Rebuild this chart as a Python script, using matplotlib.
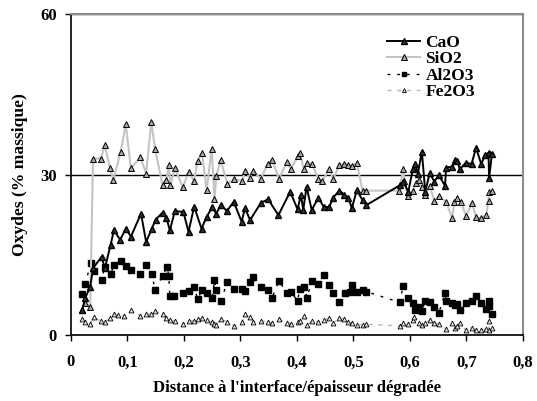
import matplotlib
matplotlib.use('Agg')
import matplotlib.pyplot as plt
import numpy as np

plt.rcParams['font.family'] = ['Liberation Serif', 'DejaVu Serif']
plt.rcParams['font.weight'] = 'bold'

# DATA
sio2_x = [0.019, 0.025, 0.034, 0.039, 0.053, 0.060, 0.069, 0.075, 0.088, 0.097,
          0.106, 0.123, 0.133, 0.142, 0.149, 0.162, 0.169, 0.173, 0.176, 0.184,
          0.198, 0.208, 0.218, 0.224, 0.232, 0.240, 0.249, 0.254, 0.257, 0.265,
          0.277, 0.289, 0.303, 0.308, 0.317, 0.322, 0.336, 0.348, 0.356, 0.368,
          0.382, 0.389, 0.402, 0.405, 0.412, 0.418, 0.426, 0.438, 0.445, 0.457,
          0.464, 0.475, 0.484, 0.491, 0.497, 0.506, 0.516, 0.523, 0.581, 0.588,
          0.590, 0.597, 0.605, 0.610, 0.616, 0.621, 0.627, 0.635, 0.643, 0.651,
          0.664, 0.675, 0.678, 0.684, 0.690, 0.699, 0.710, 0.717, 0.726, 0.735,
          0.739, 0.740, 0.746]
sio2_y = [4.7, 6.0, 5.3, 33.0, 33.0, 35.5, 31.2, 29.0, 34.3, 39.4,
          31.2, 33.2, 30.2, 39.8, 34.7, 28.0, 29.0, 31.8, 28.0, 31.2,
          27.6, 30.5, 28.8, 32.6, 34.1, 27.1, 34.8, 25.4, 29.7, 32.7,
          28.2, 29.2, 28.8, 30.7, 29.4, 30.7, 29.2, 32.0, 32.8, 29.2,
          32.3, 31.0, 33.5, 34.1, 31.0, 32.1, 32.0, 29.2, 28.8, 31.0,
          29.2, 31.8, 32.0, 31.8, 31.6, 32.1, 27.0, 27.0, 27.0, 31.0,
          28.8, 26.0, 26.9, 28.4, 29.0, 27.7, 26.2, 27.9, 25.1, 26.0,
          24.9, 21.8, 24.9, 25.6, 24.9, 22.3, 24.6, 22.0, 21.8, 22.4,
          25.1, 26.8, 26.9]

cao_x = [0.020, 0.025, 0.034, 0.039, 0.054, 0.060, 0.070, 0.076, 0.087, 0.097,
         0.106, 0.124, 0.133, 0.143, 0.150, 0.162, 0.169, 0.175, 0.184, 0.199,
         0.208, 0.218, 0.231, 0.240, 0.250, 0.257, 0.265, 0.276, 0.288, 0.302,
         0.308, 0.317, 0.336, 0.349, 0.367, 0.388, 0.401, 0.407, 0.411, 0.417,
         0.426, 0.438, 0.447, 0.457, 0.464, 0.475, 0.484, 0.491, 0.497, 0.506,
         0.516, 0.523, 0.582, 0.588, 0.597, 0.605, 0.609, 0.614, 0.621, 0.627,
         0.635, 0.643, 0.651, 0.662, 0.664, 0.675, 0.680, 0.684, 0.688, 0.699,
         0.709, 0.717, 0.726, 0.733, 0.739, 0.740, 0.745]
cao_y = [4.7, 6.9, 9.0, 12.5, 14.6, 12.5, 16.8, 19.6, 17.8, 19.9,
         18.4, 22.7, 17.4, 19.9, 21.6, 22.9, 21.8, 19.6, 23.2, 23.0,
         19.3, 24.0, 19.9, 22.1, 23.9, 22.7, 24.3, 23.2, 24.9, 21.2,
         23.7, 21.5, 24.7, 25.4, 22.4, 26.8, 23.5, 26.2, 23.4, 27.7,
         23.4, 25.7, 24.0, 23.9, 25.7, 27.0, 26.2, 25.7, 23.7, 27.1,
         25.2, 24.3, 28.0, 28.7, 26.8, 31.0, 32.0, 30.2, 34.3, 26.8,
         30.3, 28.7, 29.9, 27.9, 31.3, 31.5, 32.7, 32.6, 31.0, 32.2,
         32.0, 35.0, 32.0, 33.6, 34.1, 29.3, 33.8]

al2o3_x = [0.019, 0.025, 0.035, 0.041, 0.054, 0.060, 0.070, 0.076, 0.088, 0.097,
           0.106, 0.123, 0.133, 0.143, 0.149, 0.162, 0.170, 0.173, 0.175, 0.182,
           0.198, 0.208, 0.218, 0.224, 0.232, 0.240, 0.250, 0.254, 0.257, 0.265,
           0.277, 0.289, 0.302, 0.308, 0.317, 0.322, 0.336, 0.348, 0.356, 0.368,
           0.382, 0.389, 0.401, 0.405, 0.412, 0.418, 0.426, 0.438, 0.447, 0.457,
           0.464, 0.475, 0.485, 0.494, 0.497, 0.506, 0.516, 0.523, 0.582, 0.588,
           0.597, 0.605, 0.609, 0.616, 0.621, 0.627, 0.635, 0.643, 0.651, 0.662,
           0.664, 0.675, 0.680, 0.684, 0.688, 0.699, 0.709, 0.717, 0.726, 0.735,
           0.739, 0.740, 0.745]
al2o3_y = [7.7, 9.5, 13.4, 12.0, 10.3, 12.8, 11.4, 13.0, 13.9, 12.9,
           12.1, 11.4, 13.1, 11.4, 8.4, 11.1, 12.7, 11.1, 7.3, 7.3,
           7.8, 8.3, 9.0, 6.7, 8.4, 7.9, 7.0, 10.3, 8.4, 6.4,
           9.9, 8.6, 8.6, 8.3, 9.9, 10.8, 9.0, 8.4, 7.0, 10.1,
           7.9, 8.1, 6.4, 8.6, 8.9, 7.0, 10.1, 9.5, 11.2, 9.3,
           7.9, 6.2, 7.9, 8.1, 9.3, 8.0, 8.4, 8.1, 6.1, 9.2,
           6.9, 5.9, 4.7, 5.2, 4.5, 6.4, 6.2, 5.3, 4.1, 7.8,
           6.4, 5.9, 5.6, 5.8, 4.7, 6.0, 6.4, 7.3, 5.9, 4.8,
           6.4, 5.4, 3.9]

fe2o3_x = [0.019, 0.025, 0.034, 0.041, 0.053, 0.060, 0.069, 0.077, 0.084, 0.093,
           0.106, 0.123, 0.133, 0.142, 0.149, 0.162, 0.169, 0.175, 0.184, 0.198,
           0.208, 0.218, 0.224, 0.232, 0.240, 0.249, 0.254, 0.257, 0.265, 0.277,
           0.289, 0.303, 0.308, 0.317, 0.322, 0.336, 0.348, 0.356, 0.368, 0.382,
           0.389, 0.401, 0.405, 0.412, 0.418, 0.426, 0.438, 0.447, 0.457, 0.464,
           0.475, 0.484, 0.491, 0.497, 0.506, 0.516, 0.523, 0.582, 0.588, 0.597,
           0.605, 0.607, 0.616, 0.621, 0.627, 0.635, 0.643, 0.651, 0.664, 0.675,
           0.680, 0.684, 0.688, 0.699, 0.709, 0.717, 0.726, 0.735, 0.739, 0.740,
           0.745]
fe2o3_y = [2.9, 2.4, 2.1, 3.3, 2.6, 2.5, 3.1, 3.9, 3.7, 3.6,
           4.7, 3.6, 3.9, 3.9, 4.5, 3.9, 3.1, 2.8, 2.6, 2.0,
           2.6, 2.7, 3.0, 3.1, 2.8, 2.4, 2.0, 1.9, 3.0, 2.4,
           1.7, 2.4, 3.9, 3.3, 2.4, 2.6, 2.5, 2.2, 2.9, 2.3,
           2.1, 2.4, 2.7, 3.6, 1.9, 2.6, 2.5, 2.8, 3.1, 2.2,
           3.1, 3.0, 2.5, 2.2, 1.9, 1.9, 2.0, 1.7, 2.2, 2.0,
           2.8, 3.4, 2.3, 1.9, 2.3, 2.8, 2.2, 2.1, 1.1, 2.2,
           1.4, 1.7, 2.2, 0.9, 1.3, 0.9, 0.9, 1.1, 2.7, 0.9,
           1.4]

x_ticks = [0, 0.1, 0.2, 0.3, 0.4, 0.5, 0.6, 0.7, 0.8]
x_tick_labels = ['0', '0,1', '0,2', '0,3', '0,4', '0,5', '0,6', '0,7', '0,8']
y_ticks = [0, 30, 60]

# PLOTTING
fig = plt.figure(figsize=(5.37, 4.01), dpi=100)
ax = fig.add_axes([0.1322, 0.1646, 0.8417, 0.800])

ax.plot(fe2o3_x, fe2o3_y, color='#b8b8b8', ls=(0, (3, 4)), lw=1,
        marker='^', ms=3.5, mfc='#e0e0e0', mec='black', mew=0.6, label='Fe2O3', zorder=3)
ax.plot(al2o3_x, al2o3_y, color='black', ls=(0, (2, 5)), lw=1,
        marker='s', ms=4, mfc='black', mec='black', label='Al2O3', zorder=4)
ax.plot(sio2_x, sio2_y, color='#c4c4c4', lw=1.5,
        marker='^', ms=5, mfc='#a6a6a6', mec='black', mew=0.7, label='SiO2', zorder=5)
ax.plot(cao_x, cao_y, color='black', lw=1.4,
        marker='^', ms=5, mfc='#333333', mec='black', label='CaO', zorder=6)

ax.set_xlim(0, 0.8)
ax.set_ylim(0, 60)
ax.set_xticks(x_ticks)
ax.set_xticklabels(x_tick_labels)
ax.set_yticks(y_ticks)
ax.tick_params(direction='out', length=4, width=1, labelsize=12, color='black')
ax.tick_params(axis='x', pad=10)
ax.tick_params(axis='y', pad=6)
ax.grid(axis='y', color='black', lw=1)
ax.set_axisbelow(True)

for s in ['top', 'right']:
    ax.spines[s].set_color('#8c8c8c')
    ax.spines[s].set_linewidth(1.5)
for s in ['left', 'bottom']:
    ax.spines[s].set_color('black')
    ax.spines[s].set_linewidth(1.2)

ax.set_xlabel("Distance à l'interface/épaisseur dégradée", fontsize=12, fontweight='bold', labelpad=7)
ax.set_ylabel('Oxydes (% massique)', fontsize=12.6, fontweight='bold', labelpad=9)

h, l = ax.get_legend_handles_labels()
order = [3, 2, 1, 0]
ax.legend([h[i] for i in order], [l[i] for i in order], loc='upper left',
          bbox_to_anchor=(0.665, 0.985), frameon=False, fontsize=12.5,
          handlelength=1.9, handletextpad=0.3, labelspacing=0.02, markerscale=0.8)

plt.savefig('out.png', dpi=100)
